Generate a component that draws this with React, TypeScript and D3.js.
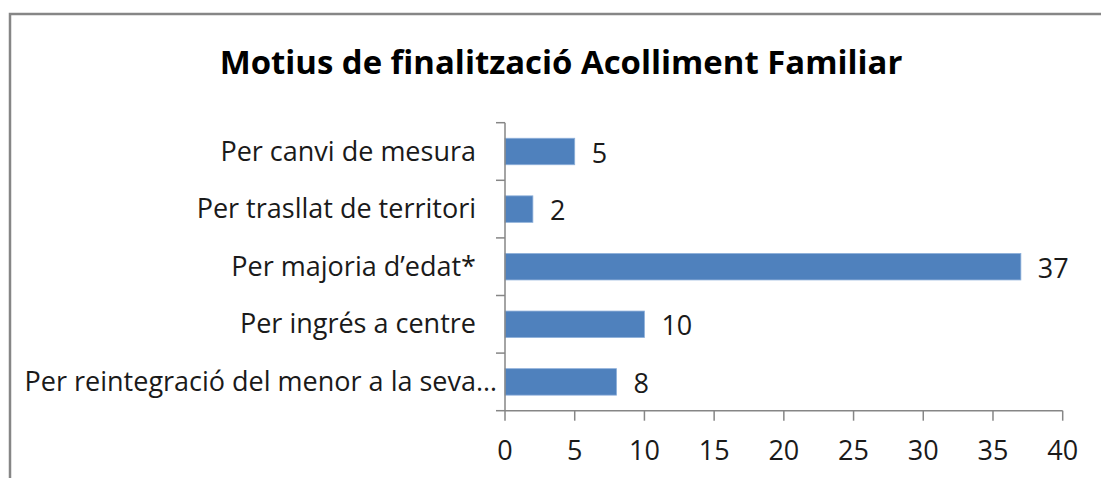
import * as d3 from "d3";

const categories = [
  "Per canvi de mesura",
  "Per trasllat de territori",
  "Per majoria d\u2019edat*",
  "Per ingrés a centre",
  "Per reintegració del menor a la seva\u2026",
];
const values = [5, 2, 37, 10, 8];
const xTicks = [0, 5, 10, 15, 20, 25, 30, 35, 40];
const title = "Motius de finalització Acolliment Familiar";

const W = 1101;
const H = 478;
const font = "'Open Sans', Lato, sans-serif";
const axisColor = "#868686";
const textColor = "#1a1a1a";

export default function App() {
  const x = d3.scaleLinear().domain([0, 40]).range([505, 1062.7]);
  const y = d3
    .scaleBand<string>()
    .domain(categories)
    .range([122.7, 410.7])
    .paddingInner(0.54)
    .paddingOuter(0.27);
  const step = y.step();
  const top = 122.7;
  const bottom = 410.7;

  return (
    <svg
      width={W}
      height={H}
      style={{ position: "absolute", left: 0, top: 0, background: "#fff" }}
      fontFamily={font}
    >
      <rect x={10} y={14} width={1120} height={500} fill="#fff" stroke={axisColor} strokeWidth={2.5} />

      <text x={561} y={74} textAnchor="middle" fontSize={32.9} fontWeight="bold" fill="#000">
        {title}
      </text>

      {/* bars */}
      {categories.map((c, i) => (
        <rect
          key={c}
          x={x(0)}
          y={y(c)!}
          width={x(values[i]) - x(0)}
          height={y.bandwidth()}
          fill="#4F81BD"
          stroke="#8EB0DA"
          strokeWidth={0.8}
        />
      ))}

      {/* value labels */}
      {categories.map((c, i) => (
        <text
          key={c}
          x={x(values[i]) + 17}
          y={y(c)! + y.bandwidth() / 2 + 11}
          fontSize={27}
          fill={textColor}
        >
          {values[i]}
        </text>
      ))}

      {/* category axis */}
      <line x1={505} x2={505} y1={top} y2={bottom} stroke={axisColor} strokeWidth={1.5} />
      {d3.range(categories.length + 1).map((k) => (
        <line
          key={k}
          x1={496}
          x2={505}
          y1={top + k * step}
          y2={top + k * step}
          stroke={axisColor}
          strokeWidth={1.5}
        />
      ))}
      {categories.map((c, i) => (
        <text
          key={c}
          x={i === categories.length - 1 ? 497 : 476}
          y={y(c)! + y.bandwidth() / 2 + 9}
          textAnchor="end"
          fontSize={27}
          fill={textColor}
        >
          {c}
        </text>
      ))}

      {/* value axis */}
      <line x1={x(0)} x2={x(40)} y1={bottom} y2={bottom} stroke={axisColor} strokeWidth={1.5} />
      {xTicks.map((t) => (
        <g key={t}>
          <line x1={x(t)} x2={x(t)} y1={bottom} y2={bottom + 10} stroke={axisColor} strokeWidth={1.5} />
          <text x={x(t)} y={460} textAnchor="middle" fontSize={27} fill={textColor}>
            {t}
          </text>
        </g>
      ))}
    </svg>
  );
}
